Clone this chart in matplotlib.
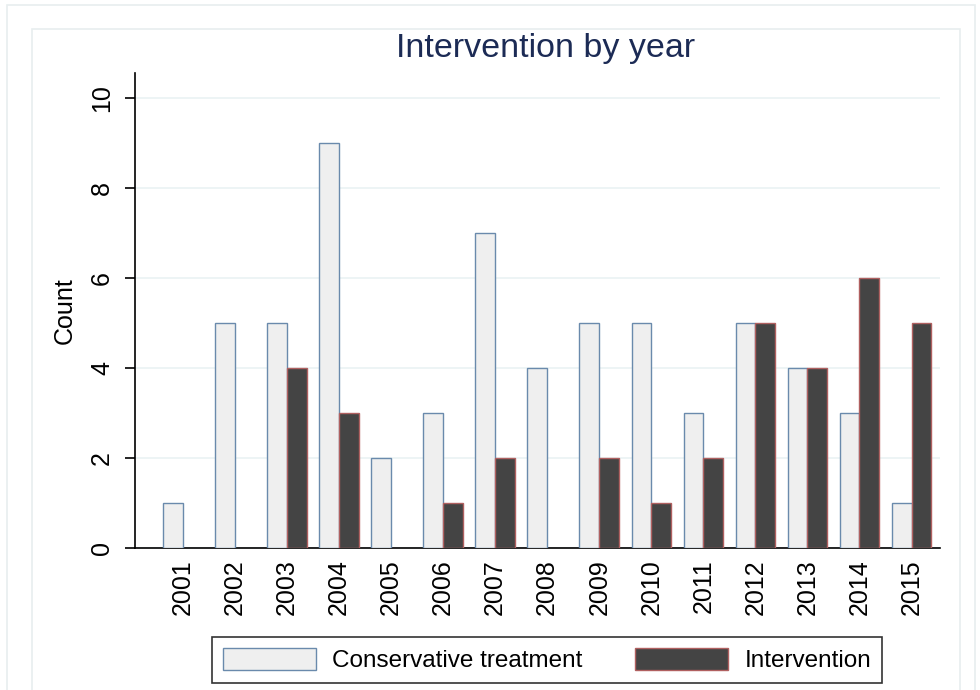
import matplotlib
matplotlib.use("Agg")
import matplotlib.pyplot as plt
import numpy as np
from matplotlib.patches import Rectangle

plt.rcParams['font.family'] = ['Liberation Sans', 'DejaVu Sans']

years = [2001, 2002, 2003, 2004, 2005, 2006, 2007, 2008,
         2009, 2010, 2011, 2012, 2013, 2014, 2015]
conservative = [1, 5, 5, 9, 2, 3, 7, 4, 5, 5, 3, 5, 4, 3, 1]
intervention = [0, 0, 4, 3, 0, 1, 2, 0, 2, 1, 2, 5, 4, 6, 5]
y_ticks = [0, 2, 4, 6, 8, 10]

fig = plt.figure(figsize=(9.8, 6.9), dpi=100)

# light frames around the graph region
fig.patches.append(Rectangle((7/980, -0.1), 968/980, 1.1 - 5/690, transform=fig.transFigure,
                             fill=False, edgecolor='#e8eeef', lw=1.2))
fig.patches.append(Rectangle((32/980, -0.1), 928/980, 1.1 - 29/690, transform=fig.transFigure,
                             fill=False, edgecolor='#e8eeef', lw=1.2))

ax = fig.add_axes([0.1378, 0.2058, 0.821, 0.688])
x = np.arange(len(years))
w = 0.38
ax.bar(x - w/2, conservative, w, color='#efefef', edgecolor='#6a8aac', lw=1,
       label='Conservative treatment', zorder=3)
iv = np.array(intervention)
keep = iv > 0
ax.bar(x[keep] + w/2, iv[keep], w, color='#444444', edgecolor='#b06060', lw=1,
       label='Intervention', zorder=3)

ax.set_xlim(-0.92, len(years) - 1 + 0.54)
ax.set_ylim(0, 10.55)
ax.set_yticks(y_ticks)
ax.set_yticklabels([str(t) for t in y_ticks], rotation=90, va='center', fontsize=18)
ax.set_xticks(x)
ax.set_xticklabels([str(y) for y in years], rotation=90, fontsize=18)
ax.tick_params(axis='x', length=0, pad=8)
ax.tick_params(axis='y', length=7, width=1.2, pad=8)
ax.grid(axis='y', color='#eaf2f3', lw=1.2, zorder=0)
for s in ['top', 'right']:
    ax.spines[s].set_visible(False)
ax.spines['left'].set_linewidth(1.2)
ax.spines['bottom'].set_linewidth(1.2)
ax.set_ylabel('Count', fontsize=18, labelpad=10)

fig.text(0.557, 0.93, 'Intervention by year', ha='center', va='center',
         fontsize=24.5, color='#1c2b55')

leg = fig.legend(loc='center', bbox_to_anchor=(0.558, 0.0435), ncol=2, fontsize=17.5,
                 frameon=True, fancybox=False, edgecolor='black', handlelength=3.83,
                 handleheight=1.07, columnspacing=2.2, borderpad=0.45, handletextpad=0.65,
                 borderaxespad=0.3)
leg.get_frame().set_linewidth(1.2)

fig.savefig('out.png', dpi=100, facecolor='white')
